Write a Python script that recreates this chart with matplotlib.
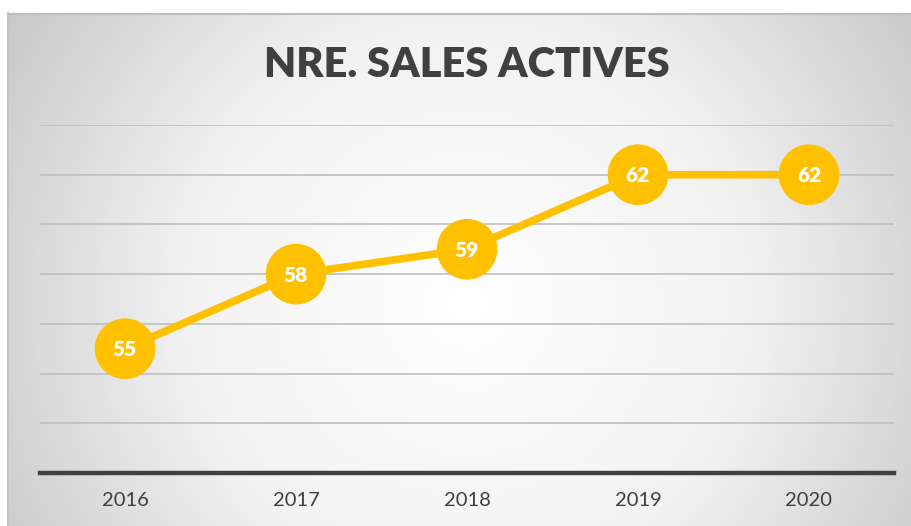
import numpy as np
import matplotlib
matplotlib.use("Agg")
import matplotlib.pyplot as plt
from matplotlib.colors import LinearSegmentedColormap

# data
years = ["2016", "2017", "2018", "2019", "2020"]
sales = [55, 58, 59, 62, 62]
title = "NRE. SALES ACTIVES"

plt.rcParams['font.family'] = ['Lato', 'DejaVu Sans']

W, H = 912, 526
fig = plt.figure(figsize=(W / 100, H / 100), dpi=100)
fig.patch.set_facecolor("white")

# radial gradient background of chart area
bg = fig.add_axes([8 / W, 0, (W - 8) / W, (H - 13) / H])
nx, ny = W - 8, H - 13
xx, yy = np.meshgrid(np.arange(nx), np.arange(ny))
cx, cy = 460, 290
r = np.sqrt((xx - cx) ** 2 + (yy - cy) ** 2) / 560.0
r = np.clip(r, 0, 1)
cmap = LinearSegmentedColormap.from_list("g", ["#ffffff", "#f2f2f2", "#c6c6c6"])
bg.imshow(r, cmap=cmap, vmin=0, vmax=1, aspect="auto", interpolation="bilinear")
bg.set_axis_off()
# border
fig.add_artist(plt.Line2D([8 / W, 1], [1 - 13.5 / H, 1 - 13.5 / H], color="#bdbdbd", lw=1.5))
fig.add_artist(plt.Line2D([8.5 / W, 8.5 / W], [0, 1 - 13 / H], color="#c4c4c4", lw=1.5))

ax = fig.add_axes([39.5 / W, 53 / H, 855 / W, 348 / H])
ax.set_facecolor("none")
x = np.arange(len(years))
ax.set_xlim(-0.5, len(years) - 0.5)
ax.set_ylim(50, 64)
for v in range(52, 65, 2):
    ax.axhline(v, color="#bfbfbf", lw=1.2, zorder=1)
ax.axhline(50, color="#404040", lw=3.2, zorder=2, clip_on=False)

ax.plot(x, sales, color="#FFC000", lw=5.5, zorder=3, solid_capstyle="round")
ax.scatter(x, sales, s=44 ** 2 * 0.72 ** 2 * 1.9, color="#FFC000", zorder=4, edgecolors="none")
for xi, v in zip(x, sales):
    ax.text(xi, v - 0.05, str(v), color="white", fontsize=15, fontweight="heavy",
            ha="center", va="center", zorder=5)

ax.set_xticks(x)
ax.set_xticklabels(years, fontsize=14.5, color="#404040")
ax.tick_params(axis="x", length=0, pad=14)
ax.set_yticks([])
for s in ax.spines.values():
    s.set_visible(False)

fig.text(467 / W, 1 - 65 / H, title, ha="center", va="center", fontsize=30,
         fontweight="heavy", color="#404040")

fig.savefig("out.png", dpi=100)
